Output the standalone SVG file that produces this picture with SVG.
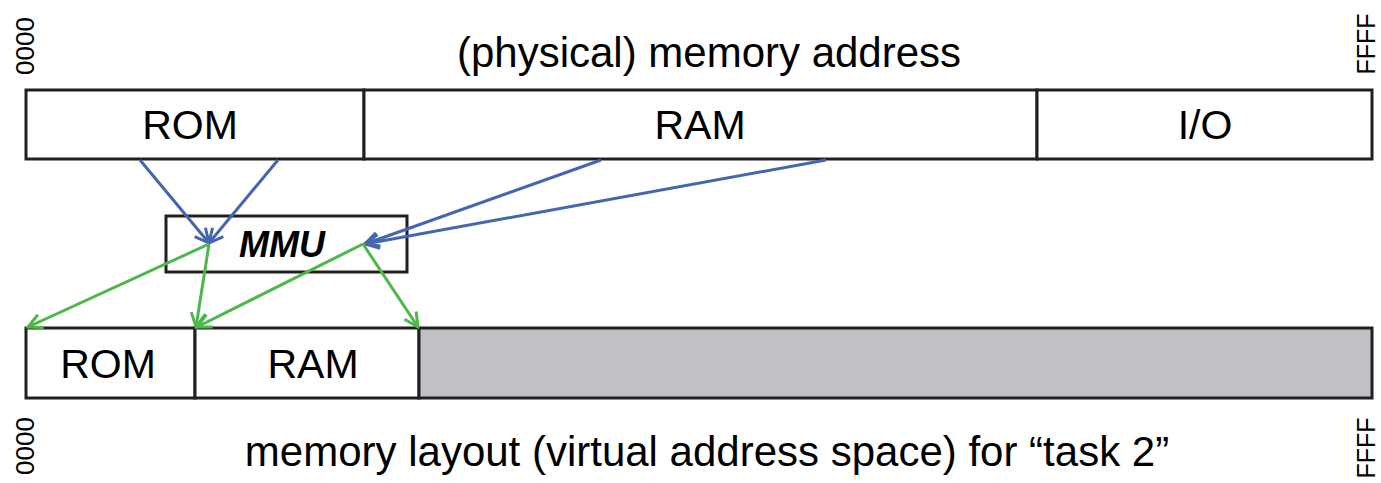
<svg xmlns="http://www.w3.org/2000/svg" width="1381" height="483" viewBox="0 0 1381 483">
<style>
.box{fill:#fff;stroke:#231F20;stroke-width:3}
.grey{fill:#C0C1C5;stroke:#231F20;stroke-width:3}
.t{font-family:"Liberation Sans",Arial,sans-serif;fill:#000;text-anchor:middle}
.b{stroke:#4466B0;stroke-width:3;fill:none;marker-end:url(#ab)}
.g{stroke:#4DB848;stroke-width:3;fill:none;marker-end:url(#ag)}
</style>
<defs>
<marker id="ab" viewBox="0 0 20 20" refX="18" refY="10" markerWidth="20" markerHeight="20" markerUnits="userSpaceOnUse" orient="auto">
<polyline points="4,3 18,10 4,17" fill="none" stroke="#4466B0" stroke-width="3"/>
</marker>
<marker id="ag" viewBox="0 0 20 20" refX="18" refY="10" markerWidth="20" markerHeight="20" markerUnits="userSpaceOnUse" orient="auto">
<polyline points="4,3 18,10 4,17" fill="none" stroke="#4DB848" stroke-width="3"/>
</marker>
</defs>
<g id="labels">
<text class="t" x="709" y="67" font-size="42">(physical) memory address</text>
<text class="t" x="707" y="466" font-size="42">memory layout (virtual address space) for “task 2”</text>
<text class="t" font-size="26" transform="translate(34,46) rotate(-90)">0000</text>
<text class="t" font-size="25" transform="translate(1375,44) rotate(-90)">FFFF</text>
<text class="t" font-size="26" transform="translate(34,446) rotate(-90)">0000</text>
<text class="t" font-size="25" transform="translate(1375,448) rotate(-90)">FFFF</text>
</g>
<g id="phys-rom"><rect class="box" x="26" y="90" width="338" height="69"/><text class="t" x="190" y="139" font-size="41">ROM</text></g>
<g id="phys-ram"><rect class="box" x="364" y="90" width="673" height="69"/><text class="t" x="700" y="139" font-size="41">RAM</text></g>
<g id="phys-io"><rect class="box" x="1037" y="90" width="335" height="69"/><text class="t" x="1205" y="139" font-size="41">I/O</text></g>
<g id="mmu"><rect class="box" x="166" y="216" width="241" height="56"/><text class="t" x="282" y="257" font-size="36" font-weight="bold" font-style="italic">MMU</text></g>
<g id="virt-rom"><rect class="box" x="26" y="328" width="169" height="70"/><text class="t" x="108" y="378" font-size="41">ROM</text></g>
<g id="virt-ram"><rect class="box" x="195" y="328" width="224" height="70"/><text class="t" x="313" y="378" font-size="41">RAM</text></g>
<g id="virt-unused"><rect class="grey" x="419" y="328" width="953" height="70"/></g>
<g id="connectors">
<line class="b" x1="140" y1="160" x2="209" y2="243"/>
<line class="b" x1="278" y1="160" x2="209" y2="243"/>
<line class="b" x1="601" y1="160" x2="365" y2="244"/>
<line class="b" x1="826" y1="160" x2="365" y2="244"/>
<line class="g" x1="209" y1="244" x2="28" y2="327"/>
<line class="g" x1="209" y1="244" x2="196" y2="327"/>
<line class="g" x1="363" y1="244" x2="197" y2="327"/>
<line class="g" x1="363" y1="244" x2="418" y2="327"/>
</g>
</svg>
